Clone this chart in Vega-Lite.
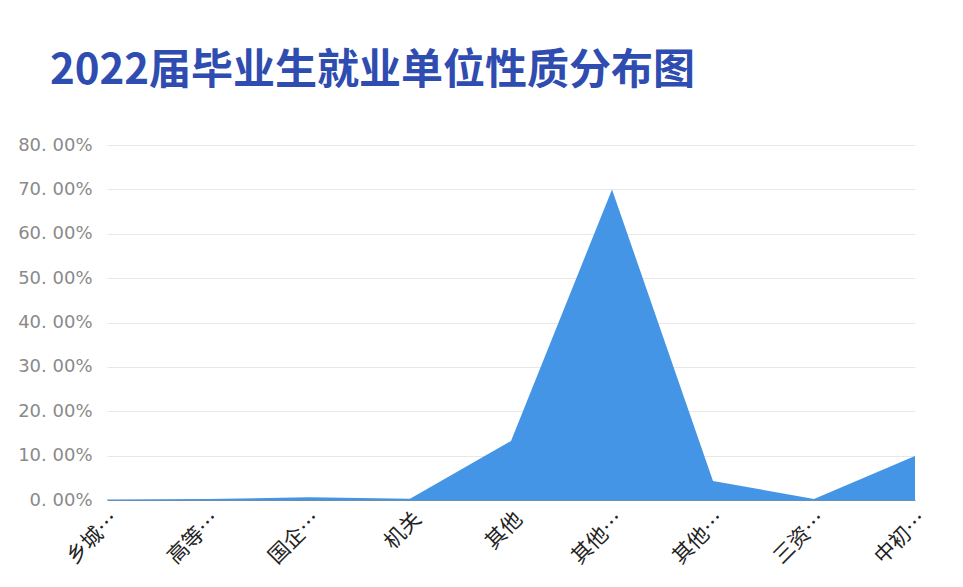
{
  "$schema": "https://vega.github.io/schema/vega-lite/v6.json",
  "autosize": {"type": "none"},
  "width": 808,
  "height": 355,
  "padding": {"left": 107, "top": 145, "right": 48, "bottom": 87},
  "background": "white",
  "title": {
    "text": "2022届毕业生就业单位性质分布图",
    "anchor": "start",
    "frame": "group",
    "dx": -57,
    "offset": 43,
    "font": "Noto Sans CJK SC",
    "fontSize": 42,
    "fontWeight": "bold",
    "color": "#2f4cb0"
  },
  "data": {
    "values": [
      {"单位性质": "乡城…", "比例": 0.001},
      {"单位性质": "高等…", "比例": 0.002},
      {"单位性质": "国企…", "比例": 0.006},
      {"单位性质": "机关", "比例": 0.003},
      {"单位性质": "其他", "比例": 0.133},
      {"单位性质": "其他企业…", "比例": 0.700},
      {"单位性质": "其他事业…", "比例": 0.043},
      {"单位性质": "三资…", "比例": 0.002},
      {"单位性质": "中初…", "比例": 0.099}
    ]
  },
  "mark": {"type": "area", "color": "#4595e6", "opacity": 1, "line": false},
  "encoding": {
    "x": {
      "field": "单位性质",
      "type": "nominal",
      "sort": null,
      "scale": {"type": "point", "padding": 0},
      "axis": {
        "title": null,
        "labelAngle": -45,
        "labelFont": "Noto Sans CJK SC",
        "labelFontSize": 21,
        "labelColor": "#222222",
        "labelPadding": 8,
        "ticks": false,
        "domain": true,
        "domainColor": "#6b8fb3",
        "domainWidth": 1,
        "grid": false,
        "labelExpr": "replace(replace(datum.label, '其他企业…', '其他…'), '其他事业…', '其他…')"
      }
    },
    "y": {
      "field": "比例",
      "type": "quantitative",
      "scale": {"domain": [0, 0.8]},
      "axis": {
        "title": null,
        "values": [0, 0.1, 0.2, 0.3, 0.4, 0.5, 0.6, 0.7, 0.8],
        "format": ".2%",
        "labelExpr": "replace(datum.label, '.', '. ')",
        "labelFont": "DejaVu Sans",
        "labelFontSize": 18,
        "labelColor": "#8a8a8a",
        "labelPadding": 15,
        "domain": false,
        "ticks": false,
        "gridColor": "#e8e8e8",
        "gridWidth": 1
      }
    }
  },
  "config": {"view": {"stroke": null}}
}
